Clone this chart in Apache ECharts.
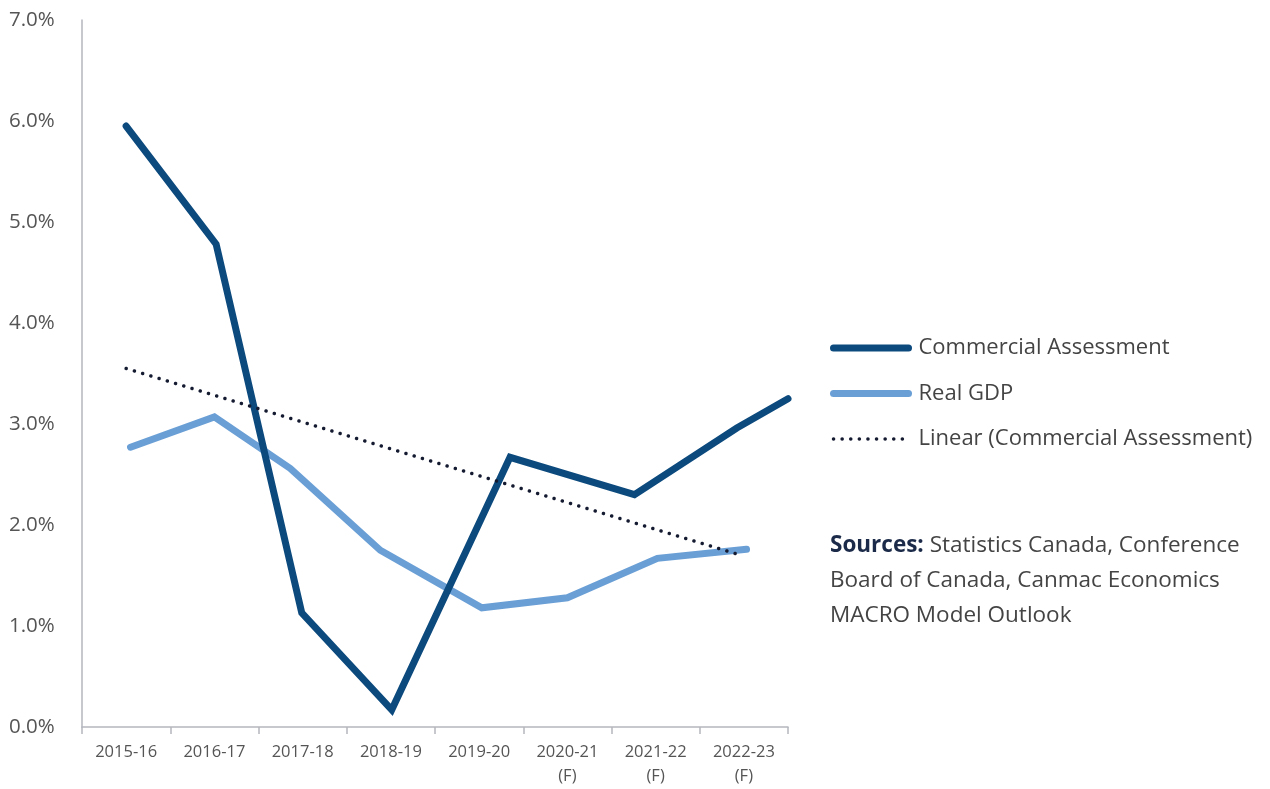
<!DOCTYPE html>
<html>
<head>
<meta charset="utf-8">
<script src="https://cdn.jsdelivr.net/npm/echarts@6/dist/echarts.min.js"></script>
<style>
html,body{margin:0;padding:0;background:#fff;}
#chart{width:1270px;height:789px;}
</style>
</head>
<body>
<div id="chart"></div>
<script>
// ---- data ----
const categories = ['2015-16','2016-17','2017-18','2018-19','2019-20','2020-21\n(F)','2021-22\n(F)','2022-23\n(F)'];
// positions along the category axis (category index units) as drawn in the source
const commercialPos = [0, 1.02, 1.99, 3.01, 4.35, 5.76, 6.92, 7.5];
const commercialVals = [5.95, 4.78, 1.13, 0.17, 2.67, 2.30, 2.96, 3.25];
const gdpPos = [0.05, 1.0, 1.86, 2.88, 4.03, 5.0, 6.02, 7.03];
const gdpVals = [2.77, 3.07, 2.56, 1.75, 1.18, 1.28, 1.67, 1.76];
const trendPos = [0, 6.97];
const trendVals = [3.55, 1.70];
const yTicks = [0, 1, 2, 3, 4, 5, 6, 7];
const seriesNames = ['Commercial Assessment', 'Real GDP', 'Linear (Commercial Assessment)'];

const FONT = '"Open Sans", "Noto Sans", sans-serif';
const DARK = '#0c4a7e';
const LIGHT = '#6a9fd6';
const DOT = '#141a30';
const AXIS = '#b4b6be';

const pair = (xs, ys) => xs.map((x, i) => [x, ys[i]]);

const chart = echarts.init(document.getElementById('chart'), null, {renderer: 'canvas'});
chart.setOption({
  animation: false,
  backgroundColor: '#ffffff',
  grid: {left: 82, top: 20, width: 706, height: 707, containLabel: false},
  xAxis: [{
    type: 'category',
    data: categories,
    boundaryGap: true,
    axisLine: {show: true, lineStyle: {color: AXIS, width: 1.5}},
    axisTick: {show: true, alignWithLabel: false, length: 7, lineStyle: {color: AXIS, width: 1.5}},
    axisLabel: {color: '#555', fontFamily: FONT, fontSize: 16.5, margin: 13, lineHeight: 24, interval: 0},
    splitLine: {show: false}
  }, {
    type: 'value',
    min: -0.5, max: 7.5,
    show: false
  }],
  yAxis: {
    type: 'value',
    min: 0, max: 7, interval: 1,
    axisLine: {show: true, onZero: false, lineStyle: {color: AXIS, width: 1.5}},
    axisTick: {show: false},
    splitLine: {show: false},
    axisLabel: {
      color: '#555', fontFamily: FONT, fontSize: 20.5, align: 'left', margin: 73,
      formatter: v => yTicks.includes(v) ? v.toFixed(1) + '%' : ''
    }
  },
  legend: {
    orient: 'vertical',
    left: 830, top: 337,
    padding: 0,
    itemWidth: 75, itemHeight: 14, itemGap: 23.5,
    itemStyle: {opacity: 0},
    textStyle: {color: '#444', fontFamily: FONT, fontSize: 22, padding: [0, 0, 0, 5]},
    data: [
      {name: seriesNames[0], lineStyle: {width: 7, cap: 'round', color: DARK}},
      {name: seriesNames[1], lineStyle: {width: 7, cap: 'round', color: LIGHT}},
      {name: seriesNames[2], lineStyle: {width: 3.5, cap: 'round', color: DOT, type: [0.1, 8.5]}}
    ],
    selectedMode: false
  },
  series: [{
    name: seriesNames[1],
    type: 'line',
    xAxisIndex: 1,
    data: pair(gdpPos, gdpVals),
    symbol: 'none',
    lineStyle: {color: LIGHT, width: 7, cap: 'round', join: 'miter'},
    itemStyle: {color: LIGHT},
    z: 2
  }, {
    name: seriesNames[0],
    type: 'line',
    xAxisIndex: 1,
    data: pair(commercialPos, commercialVals),
    symbol: 'none',
    lineStyle: {color: DARK, width: 7, cap: 'round', join: 'miter'},
    itemStyle: {color: DARK},
    z: 3
  }, {
    name: seriesNames[2],
    type: 'line',
    xAxisIndex: 1,
    data: pair(trendPos, trendVals),
    symbol: 'none',
    lineStyle: {color: DOT, width: 3.5, cap: 'round', type: [0.1, 8.5]},
    itemStyle: {color: DOT},
    z: 4
  }],
  graphic: [{
    type: 'text',
    left: 830, top: 528,
    style: {
      text: '{b|Sources:} Statistics Canada, Conference\nBoard of Canada, Canmac Economics\nMACRO Model Outlook',
      fontFamily: FONT, fontSize: 22.5, lineHeight: 35, fill: '#444',
      rich: {
        b: {fontFamily: FONT, fontSize: 22.5, fontWeight: 'bold', fill: '#1b2a48', lineHeight: 35}
      }
    }
  }]
});
</script>
</body>
</html>
